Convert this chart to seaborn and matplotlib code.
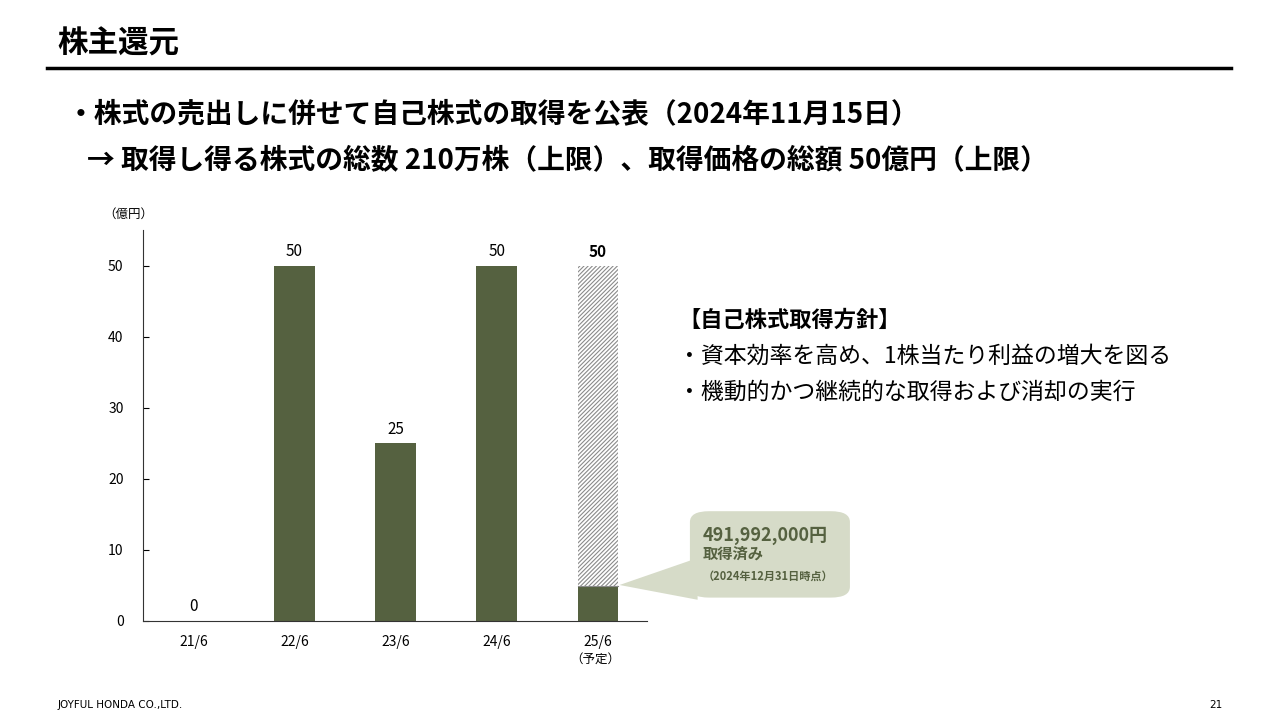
import matplotlib
matplotlib.use("Agg")
import matplotlib.pyplot as plt
import seaborn as sns
import pandas as pd
from matplotlib.patches import FancyBboxPatch, Polygon

plt.rcParams["font.family"] = "Noto Sans CJK JP"
plt.rcParams["hatch.linewidth"] = 0.8

categories = ["21/6", "22/6", "23/6", "24/6", "25/6"]
acquired = [0, 50, 25, 50, 4.92]
plan_total = [None, None, None, None, 50]
labels = ["0", "50", "25", "50", "50"]
yticks = [0, 10, 20, 30, 40, 50]

GREEN = "#556140"
fig = plt.figure(figsize=(12.8, 7.2), dpi=100)

# header
fig.text(0.045, 0.94, "株主還元", fontsize=22, fontweight="bold", va="center")
fig.add_artist(plt.Line2D([0.037, 0.962], [0.906, 0.906], color="black", lw=2.5))
fig.text(0.052, 0.842, "・株式の売出しに併せて自己株式の取得を公表（2024年11月15日）", fontsize=20, fontweight="bold", va="center")
fig.text(0.068, 0.778, "→ 取得し得る株式の総数 210万株（上限）、取得価格の総額 50億円（上限）", fontsize=20, fontweight="bold", va="center")

ax = fig.add_axes([0.1117, 0.1375, 0.394, 0.5431])
df = pd.DataFrame({"cat": categories, "val": acquired})
sns.barplot(data=df, x="cat", y="val", color=GREEN, width=0.4, saturation=1, ax=ax)
for i, t in enumerate(plan_total):
    if t is not None:
        ax.bar(i, t - acquired[i], bottom=acquired[i], width=0.4, color="white",
               edgecolor="#8a8a8a", hatch="////////", linewidth=0)
        ax.plot([i - 0.2, i + 0.2], [acquired[i]] * 2, color="#8a8a8a", lw=0.8)
for i, lab in enumerate(labels):
    top = plan_total[i] if plan_total[i] is not None else acquired[i]
    ax.text(i, top + 0.8, lab, ha="center", va="bottom", fontsize=11,
            fontweight="bold" if plan_total[i] is not None else "normal")
ax.set_xlim(-0.5, 4.49)
ax.set_ylim(0, 55)
ax.set_yticks(yticks)
ax.set_xlabel("")
ax.set_ylabel("")
sns.despine(ax=ax)
ax.spines["left"].set_color("#333333")
ax.spines["bottom"].set_color("#333333")
ax.tick_params(axis="y", direction="in", length=4, labelsize=10, pad=14)
ax.tick_params(axis="x", length=0, labelsize=10, pad=10)
fig.text(0.081, 0.698, "（億円）", fontsize=9)
fig.text(0.465, 0.08, "（予定）", fontsize=9, ha="center")

# callout
fig.add_artist(Polygon([[0.484, 0.1875], [0.545, 0.225], [0.545, 0.167]], closed=True,
                       transform=fig.transFigure, facecolor="#d6dbc8", edgecolor="none"))
fig.add_artist(FancyBboxPatch((0.539, 0.17), 0.125, 0.12, boxstyle="round,pad=0,rounding_size=0.015",
                              transform=fig.transFigure, facecolor="#d6dbc8", edgecolor="none"))
fig.text(0.549, 0.256, "491,992,000円", fontsize=13, fontweight="bold", color="#556140", va="center")
fig.text(0.549, 0.231, "取得済み", fontsize=11, fontweight="bold", color="#556140", va="center")
fig.text(0.549, 0.2, "（2024年12月31日時点）", fontsize=8, fontweight="bold", color="#556140", va="center")

# policy
fig.text(0.530, 0.555, "【自己株式取得方針】", fontsize=16, fontweight="bold", va="center")
fig.text(0.530, 0.505, "・資本効率を高め、1株当たり利益の増大を図る", fontsize=16.5, va="center")
fig.text(0.530, 0.455, "・機動的かつ継続的な取得および消却の実行", fontsize=16.5, va="center")

fig.text(0.045, 0.017, "JOYFUL HONDA CO.,LTD.", fontsize=7.5, fontfamily="DejaVu Sans")
fig.text(0.955, 0.017, "21", fontsize=7.5, ha="right", fontfamily="DejaVu Sans")

fig.savefig("out.png", dpi=100)
